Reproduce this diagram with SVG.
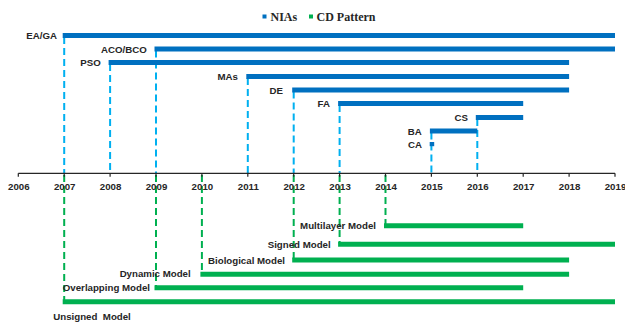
<svg xmlns="http://www.w3.org/2000/svg" width="625" height="324" viewBox="0 0 625 324">
<style>
.lbl{font-family:"Liberation Sans",Arial,sans-serif;font-weight:bold;font-size:9.7px;fill:#262626}
.yr{font-family:"Liberation Sans",Arial,sans-serif;font-weight:bold;font-size:9.7px;fill:#262626;text-anchor:middle}
.leg{font-family:"Liberation Serif","Times New Roman",serif;font-weight:bold;font-size:12px;fill:#262626}
.nb{stroke:#0070C0;stroke-width:5;fill:none}
.cb{stroke:#00B050;stroke-width:5;fill:none}
.nd{stroke:#00B0F0;stroke-width:2;stroke-dasharray:7 4;fill:none}
.cd{stroke:#00B050;stroke-width:2;stroke-dasharray:7 4;fill:none}
.ax{stroke:#262626;stroke-width:1.2;fill:none}
</style>
<rect width="625" height="324" fill="#ffffff"/>
<g id="legend">
<rect x="262.5" y="14.5" width="4" height="4" fill="#0070C0"/>
<text class="leg" x="270.5" y="20.5">NIAs</text>
<rect x="309" y="14.5" width="4" height="4" fill="#00B050"/>
<text class="leg" x="316.5" y="20.5">CD Pattern</text>
</g>
<g id="connectors">
<line class="nd" x1="64.2" y1="37" x2="64.2" y2="173"/>
<line class="nd" x1="110.1" y1="64" x2="110.1" y2="173"/>
<line class="nd" x1="156" y1="50.5" x2="156" y2="173"/>
<line class="nd" x1="247.8" y1="78" x2="247.8" y2="173"/>
<line class="nd" x1="293.7" y1="91.5" x2="293.7" y2="173"/>
<line class="nd" x1="339.6" y1="105" x2="339.6" y2="173"/>
<line class="nd" x1="431.4" y1="132.5" x2="431.4" y2="173"/>
<line class="nd" x1="477.3" y1="119" x2="477.3" y2="173"/>
<line class="cd" x1="64.2" y1="175" x2="64.2" y2="301"/>
<line class="cd" x1="156" y1="175" x2="156" y2="287"/>
<line class="cd" x1="201.9" y1="175" x2="201.9" y2="273.5"/>
<line class="cd" x1="293.7" y1="175" x2="293.7" y2="259.5"/>
<line class="cd" x1="339.6" y1="175" x2="339.6" y2="243.5"/>
<line class="cd" x1="385.5" y1="175" x2="385.5" y2="225"/>
</g>
<g id="axis">
<line class="ax" x1="18.3" y1="173.3" x2="615" y2="173.3"/>
<path class="ax" d="M18.3 173.3v3.5M64.2 173.3v3.5M110.1 173.3v3.5M156 173.3v3.5M201.9 173.3v3.5M247.8 173.3v3.5M293.7 173.3v3.5M339.6 173.3v3.5M385.5 173.3v3.5M431.4 173.3v3.5M477.3 173.3v3.5M523.2 173.3v3.5M569.1 173.3v3.5M615 173.3v3.5"/>
<text class="yr" x="18.8" y="189.5">2006</text>
<text class="yr" x="64.7" y="189.5">2007</text>
<text class="yr" x="110.6" y="189.5">2008</text>
<text class="yr" x="156.5" y="189.5">2009</text>
<text class="yr" x="202.4" y="189.5">2010</text>
<text class="yr" x="248.3" y="189.5">2011</text>
<text class="yr" x="294.2" y="189.5">2012</text>
<text class="yr" x="340.1" y="189.5">2013</text>
<text class="yr" x="386" y="189.5">2014</text>
<text class="yr" x="431.9" y="189.5">2015</text>
<text class="yr" x="477.8" y="189.5">2016</text>
<text class="yr" x="523.7" y="189.5">2017</text>
<text class="yr" x="569.6" y="189.5">2018</text>
<text class="yr" x="615.5" y="189.5">2019</text>
</g>
<g id="n-eaga"><line class="nb" x1="62.7" y1="35.5" x2="615" y2="35.5"/><text class="lbl" x="57" y="39" text-anchor="end">EA/GA</text></g>
<g id="n-acobco"><line class="nb" x1="154.5" y1="49" x2="615" y2="49"/><text class="lbl" x="146.7" y="52.5" text-anchor="end">ACO/BCO</text></g>
<g id="n-pso"><line class="nb" x1="108.6" y1="62.5" x2="569.1" y2="62.5"/><text class="lbl" x="100.7" y="66" text-anchor="end">PSO</text></g>
<g id="n-mas"><line class="nb" x1="246.3" y1="76.5" x2="569.1" y2="76.5"/><text class="lbl" x="238" y="80" text-anchor="end">MAs</text></g>
<g id="n-de"><line class="nb" x1="292.2" y1="90" x2="569.1" y2="90"/><text class="lbl" x="283" y="93.5" text-anchor="end">DE</text></g>
<g id="n-fa"><line class="nb" x1="338.1" y1="103.5" x2="523.2" y2="103.5"/><text class="lbl" x="330" y="107" text-anchor="end">FA</text></g>
<g id="n-cs"><line class="nb" x1="475.8" y1="117.5" x2="523.2" y2="117.5"/><text class="lbl" x="468" y="121" text-anchor="end">CS</text></g>
<g id="n-ba"><line class="nb" x1="429.9" y1="131" x2="477.3" y2="131"/><text class="lbl" x="421.7" y="134.5" text-anchor="end">BA</text></g>
<g id="n-ca"><rect x="429.7" y="142" width="4.5" height="4.2" fill="#0070C0"/><text class="lbl" x="422" y="147.5" text-anchor="end">CA</text></g>
<g id="c-multilayer"><line class="cb" x1="384" y1="225.7" x2="523.2" y2="225.7"/><text class="lbl" x="376" y="229.2" text-anchor="end">Multilayer Model</text></g>
<g id="c-signed"><line class="cb" x1="338.1" y1="244.3" x2="615" y2="244.3"/><text class="lbl" x="330.7" y="247.8" text-anchor="end">Signed Model</text></g>
<g id="c-biological"><line class="cb" x1="292.2" y1="260" x2="569.1" y2="260"/><text class="lbl" x="285" y="263.5" text-anchor="end">Biological Model</text></g>
<g id="c-dynamic"><line class="cb" x1="200.4" y1="274.3" x2="569.1" y2="274.3"/><text class="lbl" x="190.7" y="276.5" text-anchor="end">Dynamic Model</text></g>
<g id="c-overlapping"><line class="cb" x1="154.5" y1="287.7" x2="523.2" y2="287.7"/><text class="lbl" x="150" y="291" text-anchor="end">Overlapping Model</text></g>
<g id="c-unsigned"><line class="cb" x1="62.7" y1="301.7" x2="615" y2="301.7"/><text class="lbl" x="53.3" y="320" style="white-space:pre">Unsigned  Model</text></g>
</svg>
